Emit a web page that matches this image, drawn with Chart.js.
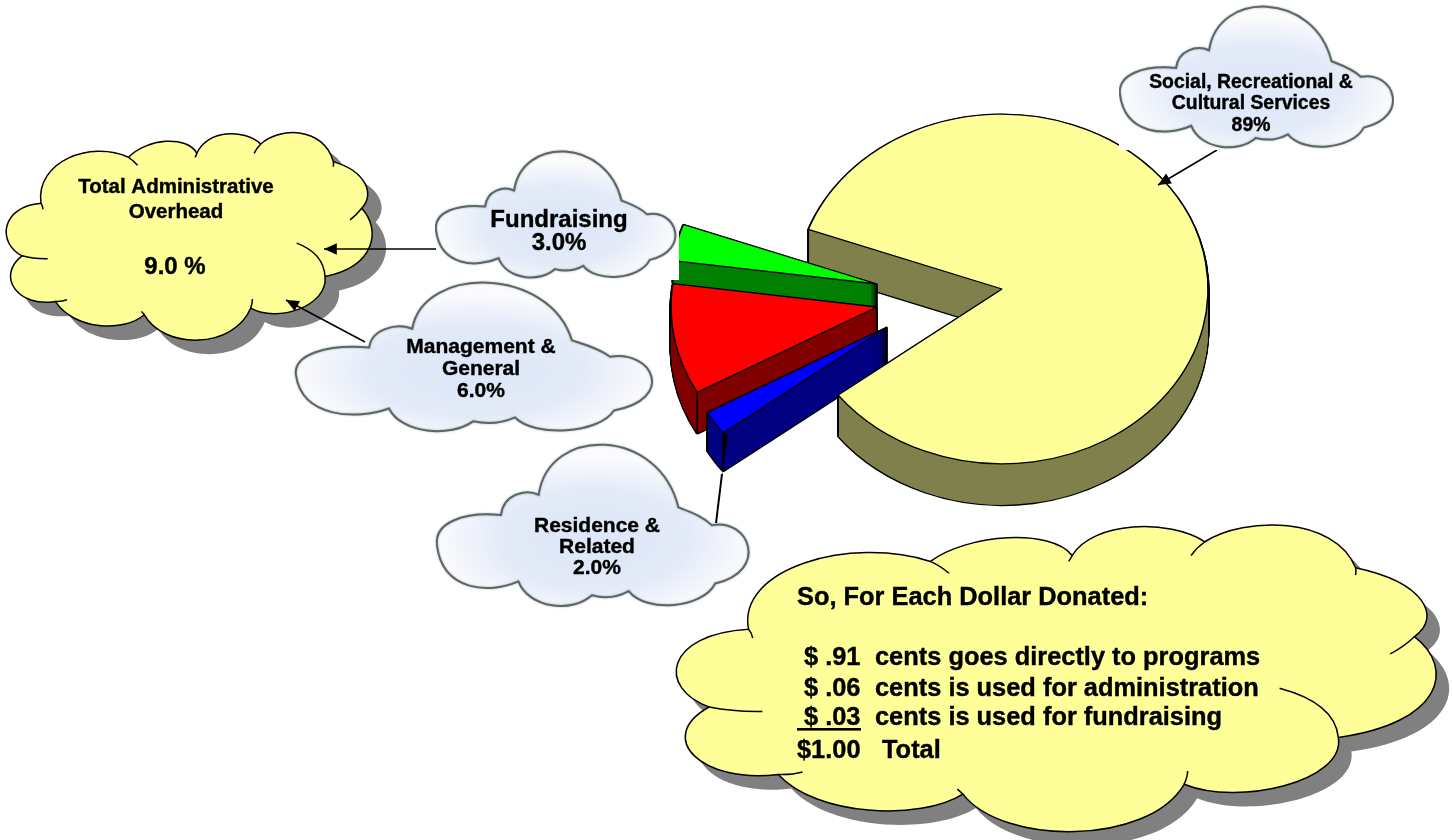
<!DOCTYPE html>
<html>
<head>
<meta charset="utf-8">
<title>Where each dollar goes</title>
<script src="https://cdn.jsdelivr.net/npm/chart.js@4"></script>
<style>
  html, body { margin: 0; padding: 0; background: #fff; }
  canvas { display: block; }
</style>
</head>
<body>
<canvas id="pie" width="1453" height="840"></canvas>
<script>
// wedge sizes as drawn in the picture (the printed percents do not match the drawn angles)
const sliceNames = [
  ['Social, Recreational &', 'Cultural Services'],
  ['Residence &', 'Related'],
  ['Management &', 'General'],
  ['Fundraising']
];
const drawnShares = [84.1, 2.25, 10.25, 3.4];
const printedPercents = ['89%', '2.0%', '6.0%', '3.0%'];
const topColors = ['#FFFF99', '#0000FF', '#FF0000', '#00FF00'];
const wallColors = ['#80804D', '#000080', '#800000', '#008000'];

const overheadLines = ['Total Administrative', 'Overhead'];
const overheadPercent = '9.0 %';

const dollarTitle = 'So, For Each Dollar Donated:';
const dollarAmounts = ['$ .91', '$ .06', '$ .03', '$1.00'];
const dollarUses = ['cents goes directly to programs', 'cents is used for administration', 'cents is used for fundraising', 'Total'];

// pie look: squashed to an ellipse, pulled apart, with a side wall
const squash = 0.849;
const sliceShift = [[0, 0], [-115, 38], [-125, 18], [-125, -5]];
const wallDepth = [41, 38, 41, 23];

// cloud outlines, traced once each and scaled to every box
const yellowBox = [20, 42, 1122, 658];
const yellowStart = [122, 250];
const yellowLobes = [
  [105, 125, 270, 60, 385, 112], [440, 55, 560, 45, 590, 100], [620, 30, 730, 25, 782, 72],
  [840, 20, 970, 20, 1000, 125], [1100, 155, 1125, 225, 1085, 265], [1145, 330, 1125, 440, 975, 470],
  [985, 560, 830, 610, 752, 565], [700, 690, 490, 690, 432, 585], [370, 640, 220, 630, 165, 545],
  [55, 565, -15, 470, 65, 408], [-10, 370, 0, 260, 122, 250]
];
const yellowTails = [
  [385, 112, 398, 120, 412, 136], [590, 100, 588, 106, 585, 112], [782, 72, 770, 84, 762, 100],
  [1000, 125, 1001, 132, 1000, 140], [1085, 265, 1070, 285, 1050, 300], [975, 470, 970, 400, 890, 370],
  [752, 565, 757, 550, 757, 538], [432, 585, 428, 580, 424, 575], [165, 545, 185, 546, 200, 540],
  [65, 408, 100, 418, 142, 417], [122, 250, 127, 258, 128, 268]
];
const blueBox = [47, 30, 775, 418];
const blueStart = [195, 198];
const blueLobes = [
  [200, 150, 250, 135, 282, 150], [305, -15, 560, -10, 605, 180], [630, 190, 660, 200, 682, 222],
  [770, 205, 815, 330, 690, 360], [660, 420, 530, 430, 490, 378], [460, 395, 430, 395, 405, 388],
  [360, 430, 260, 420, 235, 355], [170, 385, 60, 380, 47, 270], [40, 215, 110, 190, 195, 198]
];

function fitter(box, x, y, w, h) {
  return function (px, py) {
    return [x + (px - box[0]) / (box[2] - box[0]) * w, y + (py - box[1]) / (box[3] - box[1]) * h];
  };
}

function traceCloud(ctx, start, lobes, fit) {
  const s = fit(start[0], start[1]);
  ctx.beginPath();
  ctx.moveTo(s[0], s[1]);
  lobes.forEach(function (l) {
    const a = fit(l[0], l[1]), b = fit(l[2], l[3]), c = fit(l[4], l[5]);
    ctx.bezierCurveTo(a[0], a[1], b[0], b[1], c[0], c[1]);
  });
  ctx.closePath();
}

function yellowCloud(ctx, x, y, w, h, shx, shy) {
  const fit = fitter(yellowBox, x, y, w, h);
  ctx.save();
  ctx.translate(shx, shy);
  traceCloud(ctx, yellowStart, yellowLobes, fit);
  ctx.fillStyle = '#808080';
  ctx.fill();
  ctx.restore();
  traceCloud(ctx, yellowStart, yellowLobes, fit);
  ctx.fillStyle = '#FFFF99';
  ctx.fill();
  ctx.strokeStyle = '#000';
  ctx.lineWidth = 1.5;
  ctx.stroke();
  yellowTails.forEach(function (t) {
    const a = fit(t[0], t[1]), b = fit(t[2], t[3]), c = fit(t[4], t[5]);
    ctx.beginPath();
    ctx.moveTo(a[0], a[1]);
    ctx.quadraticCurveTo(b[0], b[1], c[0], c[1]);
    ctx.stroke();
  });
}

// clip is the edge of the pasted bitmap, it hides whatever lies under it
function blueCloud(ctx, x, y, w, h, clip) {
  const fit = fitter(blueBox, x, y, w, h);
  ctx.save();
  if (clip) {
    ctx.fillStyle = '#fff';
    ctx.fillRect(clip[0], clip[1], clip[2], clip[3]);
    ctx.beginPath();
    ctx.rect(clip[0], clip[1], clip[2], clip[3]);
    ctx.clip();
  }
  traceCloud(ctx, blueStart, blueLobes, fit);
  ctx.save();
  ctx.translate(x + w / 2, y + h * 0.58);
  ctx.scale(w / 2, h / 2);
  const g = ctx.createRadialGradient(0, 0, 0, 0, 0, 1);
  g.addColorStop(0, '#DDE7F8');
  g.addColorStop(0.6, '#E3EAF8');
  g.addColorStop(1, '#FBFBFD');
  ctx.fillStyle = g;
  ctx.fill();
  ctx.restore();
  ctx.shadowColor = 'rgba(70,80,80,0.5)';
  ctx.shadowBlur = 2;
  ctx.strokeStyle = '#5C6868';
  ctx.lineWidth = 2;
  ctx.stroke();
  ctx.restore();
}

function arrow(ctx, x1, y1, x2, y2, width) {
  const a = Math.atan2(y2 - y1, x2 - x1);
  ctx.strokeStyle = '#000';
  ctx.fillStyle = '#000';
  ctx.lineWidth = width;
  ctx.beginPath();
  ctx.moveTo(x1, y1);
  ctx.lineTo(x2, y2);
  ctx.stroke();
  ctx.beginPath();
  ctx.moveTo(x2, y2);
  ctx.lineTo(x2 - 14 * Math.cos(a - 0.42), y2 - 14 * Math.sin(a - 0.42));
  ctx.lineTo(x2 - 14 * Math.cos(a + 0.42), y2 - 14 * Math.sin(a + 0.42));
  ctx.closePath();
  ctx.fill();
}

function lines(ctx, size, x, rows, align) {
  ctx.font = 'bold ' + size + 'px "Liberation Sans", Arial, sans-serif';
  ctx.textAlign = align || 'center';
  ctx.textBaseline = 'alphabetic';
  ctx.fillStyle = '#000';
  ctx.strokeStyle = '#000';
  ctx.lineWidth = 0.4;
  rows.forEach(function (r) {
    ctx.fillText(r[0], x, r[1]);
    ctx.strokeText(r[0], x, r[1]);
  });
}

function styled(arc, color, border) {
  const o = Object.assign({}, arc.options, { backgroundColor: color, borderColor: '#000', borderWidth: border });
  const keep = arc.options;
  arc.options = o;
  return function () { arc.options = keep; };
}

function drawWall(ctx, arc, i) {
  const unit = 1 / squash;
  let undo = styled(arc, wallColors[i], 3);
  for (let d = wallDepth[i]; d >= 1; d--) {
    ctx.save();
    ctx.translate(0, d * unit);
    arc.draw(ctx);
    ctx.restore();
  }
  undo();
  undo = styled(arc, wallColors[i], 0);
  for (let d = wallDepth[i]; d >= 1; d--) {
    ctx.save();
    ctx.translate(0, d * unit);
    arc.draw(ctx);
    ctx.restore();
  }
  undo();
  // the upright edges at the wedge corners
  ctx.strokeStyle = '#000';
  ctx.lineWidth = 1.5;
  [[arc.x, arc.y],
   [arc.x + arc.outerRadius * Math.cos(arc.startAngle), arc.y + arc.outerRadius * Math.sin(arc.startAngle)],
   [arc.x + arc.outerRadius * Math.cos(arc.endAngle), arc.y + arc.outerRadius * Math.sin(arc.endAngle)]].forEach(function (p) {
    ctx.beginPath();
    ctx.moveTo(p[0], p[1]);
    ctx.lineTo(p[0], p[1] + wallDepth[i] * unit);
    ctx.stroke();
  });
}

function drawTop(ctx, arc, i) {
  const undo = styled(arc, topColors[i], 1.5);
  arc.draw(ctx);
  undo();
}

const explodedPie = {
  id: 'explodedPie',
  afterDatasetsUpdate(chart) {
    chart.getDatasetMeta(0).data.forEach(function (arc, i) {
      arc.x += sliceShift[i][0];
      arc.y += sliceShift[i][1] / squash;
    });
  },
  beforeDatasetsDraw(chart) {
    const ctx = chart.ctx;
    const arcs = chart.getDatasetMeta(0).data;
    const cy = (chart.chartArea.top + chart.chartArea.bottom) / 2;
    ctx.save();
    ctx.translate(0, cy);
    ctx.scale(1, squash);
    ctx.translate(0, -cy);
    drawWall(ctx, arcs[0], 0);
    [3, 2, 1].forEach(function (i) {
      drawWall(ctx, arcs[i], i);
      drawTop(ctx, arcs[i], i);
    });
    drawTop(ctx, arcs[0], 0);
    ctx.restore();
    return false;
  },
  afterDraw(chart) {
    const ctx = chart.ctx;
    ctx.save();

    // Residence pointer: a long thin sliver over the blue wall, then a plain line
    ctx.fillStyle = '#000';
    ctx.beginPath();
    ctx.moveTo(723, 434);
    ctx.lineTo(728, 434);
    ctx.lineTo(722, 476);
    ctx.closePath();
    ctx.fill();
    ctx.strokeStyle = '#000';
    ctx.lineWidth = 2;
    ctx.beginPath();
    ctx.moveTo(716, 523);
    ctx.lineTo(722, 474);
    ctx.stroke();

    arrow(ctx, 1217, 150, 1158, 185, 1.5);

    yellowCloud(ctx, 7, 134, 367, 205, 14, 14);
    lines(ctx, 20.5, 176, [[overheadLines[0], 193], [overheadLines[1], 218]]);
    lines(ctx, 24, 175, [[overheadPercent, 274]]);

    blueCloud(ctx, 436, 151, 242, 128, [435, 147, 244, 133]);
    lines(ctx, 24, 559, [[sliceNames[3][0], 227], [printedPercents[3], 250]]);

    blueCloud(ctx, 296, 282, 360, 151);
    lines(ctx, 21, 481, [[sliceNames[2][0], 353], [sliceNames[2][1], 375], [printedPercents[2], 397]]);

    blueCloud(ctx, 437, 444, 315, 164);
    lines(ctx, 21, 597, [[sliceNames[1][0], 532], [sliceNames[1][1], 553], [printedPercents[1], 574]]);

    blueCloud(ctx, 1120, 6, 276, 143, [1119, 3, 275, 147]);
    lines(ctx, 19.4, 1251, [[sliceNames[0][0], 88], [sliceNames[0][1], 109], [printedPercents[0], 131]]);

    arrow(ctx, 436, 249, 324, 249, 1.5);
    arrow(ctx, 365, 342, 286, 300, 1.5);

    yellowCloud(ctx, 678, 527, 762, 303, 13, 14);
    lines(ctx, 25.4, 797, [[dollarTitle, 605]], 'left');
    const rowY = [665, 696, 725, 758];
    lines(ctx, 25.4, 804, dollarAmounts.slice(0, 3).map(function (t, i) { return [t, rowY[i]]; }), 'left');
    lines(ctx, 25.4, 797, [[dollarAmounts[3], rowY[3]]], 'left');
    lines(ctx, 25.4, 875, dollarUses.slice(0, 3).map(function (t, i) { return [t, rowY[i]]; }), 'left');
    lines(ctx, 25.4, 882, [[dollarUses[3], rowY[3]]], 'left');
    ctx.fillStyle = '#000';
    ctx.fillRect(797, 728, 64, 2.6);

    ctx.restore();
  }
};

new Chart(document.getElementById('pie'), {
  type: 'pie',
  data: {
    labels: sliceNames.map(function (n) { return n.join(' '); }),
    datasets: [{
      data: drawnShares,
      backgroundColor: topColors,
      borderColor: '#000',
      borderWidth: 1.5
    }]
  },
  options: {
    responsive: false,
    animation: false,
    rotation: 289.9,
    radius: 206,
    // puts the pie centre where the picture has it
    layout: { padding: { left: 551, bottom: 262 } },
    plugins: { legend: { display: false }, tooltip: { enabled: false } }
  },
  plugins: [explodedPie]
});
</script>
</body>
</html>
